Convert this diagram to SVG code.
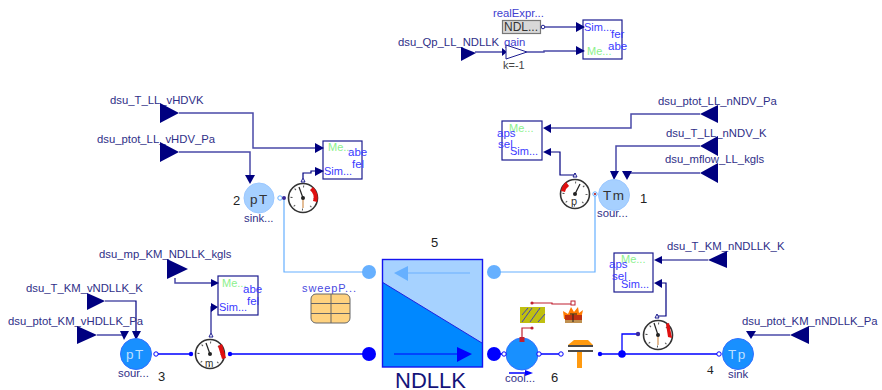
<svg xmlns="http://www.w3.org/2000/svg" width="882" height="390" viewBox="0 0 882 390">
<style>
text{font-family:"Liberation Sans",Arial,sans-serif}
.l{font-size:11.3px;fill:#2f2f88}
.n{font-size:13px;fill:#222}
.s{font-size:11.3px;fill:#4040d0}
.box{fill:#fff;stroke:#1c1c90;stroke-width:1.2}
.b{fill:none;stroke:#000080;stroke-width:1.200}
.b2{fill:none;stroke:#4a4aa8;stroke-width:1.500}
.lb{fill:none;stroke:#66b0ff;stroke-width:1.200}
.bl{fill:none;stroke:#0000ff;stroke-width:1.300}
.red{fill:none;stroke:#c02030;stroke-width:1.200}
.ah{fill:#000080}
.g{font-size:11px;fill:#8cf08c}
.i{font-size:11px;fill:#3a3aff}
.d{font-size:11.500px;fill:#3a3aff}
.gf{fill:#fff;stroke:#333;stroke-width:1.600}
.tk{fill:none;stroke:#555;stroke-width:2;stroke-dasharray:1 8}
.nd{stroke:#222;stroke-width:1.200}
.st{stroke:#d09050;stroke-width:1.200}
.o{fill:#fff;stroke:#0000ff;stroke-width:1}
.p{fill:#fff;stroke:#1c1c90;stroke-width:1}
.ic{font-size:13.500px;letter-spacing:1.500px}
</style>
<g id="connectors">
<path class="b2" d="M475 52H503"/>
<path class="b2" d="M527 52H544V51H578"/>
<path class="b2" d="M545 27H578"/>
<path class="b2" d="M179 113H253V148H317"/>
<path class="b2" d="M179 152H250V176"/>
<path class="b" d="M303 178V173H311V171H317"/>
<path class="b2" d="M700 114H631V128H549"/>
<path class="b2" d="M700 146H616V172"/>
<path class="b2" d="M700 173H630"/>
<path class="b" d="M575 173V175H560V152H549"/>
<path class="b2" d="M175 278V283H213"/>
<path class="b2" d="M97 335H124"/>
<path class="b" d="M105 301H136V332"/>
<path class="b2" d="M211 333V307H213"/>
<path class="b" d="M708 260H659"/>
<path class="b" d="M658 316H666V283H659"/>
<path class="b2" d="M790 335H751"/>
<path class="lb" d="M284 198V272H369"/>
<path class="lb" d="M494 272H595V194"/>
<path class="bl" d="M158 354H191M230 354H369"/>
<path class="bl" d="M488 354H504M541 354H559M600 354H717"/>
<path class="bl" d="M622 354V334H638"/>
<path class="red" d="M522 339V328H532"/>
<path class="red" d="M532 303H552V304H573"/>
</g>

<g id="top">
<text class="s" x="493" y="17">realExpr...</text>
<rect x="502.500" y="20.500" width="38" height="13" fill="#d8d8d8" stroke="#777" stroke-width="1.200"/>
<text x="504" y="31" font-size="12" fill="#333">NDL...</text>
<circle cx="543" cy="27" r="1.800" class="p"/>
<text class="l" x="398" y="46">dsu_Qp_LL_NDLLK</text>
<text class="s" x="504" y="46">gain</text>
<path class="ah" d="M461 47L476 53L461 61Z"/>
<path class="ah" d="M502 48L507 52L502 56Z"/>
<path fill="#fff" stroke="#1c1c90" stroke-width="1" d="M506 45L527 52L506 59Z"/>
<text x="503" y="69" font-size="11" fill="#444">k=-1</text>
<rect class="box" x="583" y="20" width="39" height="39"/>
<path class="ah" d="M576 22L585 27L576 32ZM576 46L585 51L576 55Z"/>
<text class="i" x="584" y="31">Sim...</text>
<text class="g" x="587" y="55">Me...</text>
<text class="d" x="611" y="38">fer</text>
<text class="d" x="608" y="50">abe</text>
</g>

<g id="sinkLL">
<text class="l" x="110" y="104">dsu_T_LL_vHDVK</text>
<text class="l" x="97" y="143">dsu_ptot_LL_vHDV_Pa</text>
<path class="ah" d="M160 103L179 113L160 123ZM160 142L179 152L160 162Z"/>
<path class="ah" d="M245 175H255L250 184Z"/>
<rect class="box" x="323" y="141" width="39" height="38"/>
<path class="ah" d="M315 143L324 148L315 153ZM315 167L324 171L315 176Z"/>
<text class="g" x="328" y="151">Me...</text>
<text class="i" x="324" y="175">Sim...</text>
<text class="d" x="348" y="156">abe</text>
<text class="d" x="352" y="168">fel</text>
<circle cx="259" cy="198" r="15" fill="#a6d0ff" stroke="#9cc8ff"/>
<text class="ic" x="250" y="204" fill="#333">pT</text>
<text class="n" x="233" y="205">2</text>
<text class="l" x="244" y="222">sink...</text>
<circle cx="280" cy="198" r="2.200" fill="#fff" stroke="#66b0ff"/>
<circle cx="284" cy="198" r="2" fill="#3a2a9a"/>
<circle cx="303" cy="198" r="14.500" class="gf"/>
<circle cx="303" cy="198" r="11.500" class="tk"/>
<path d="M313 187A15 15 0 0 1 317 202L313 201A10 10 0 0 0 310 190Z" fill="#e01010"/>
<path class="st" d="M303 198V208"/>
<path class="nd" d="M303 198L299 187"/>
<circle cx="303" cy="198" r="2" fill="#222"/>
<path d="M301 182H305L303 178Z" class="p"/>
</g>

<g id="sourceLL">
<text class="l" x="658" y="105">dsu_ptot_LL_nNDV_Pa</text>
<text class="l" x="666" y="137">dsu_T_LL_nNDV_K</text>
<text class="l" x="665" y="163">dsu_mflow_LL_kgls</text>
<path class="ah" d="M718 105L700 114L718 123ZM718 136L700 146L718 156ZM718 163L700 173L718 183Z"/>
<path class="ah" d="M610 171H619L614 180ZM622 171H632L627 180Z"/>
<rect class="box" x="502" y="121" width="40" height="39"/>
<path class="ah" d="M551 124L543 128L551 133ZM551 148L543 152L551 156Z"/>
<text class="g" x="509" y="132">Me...</text>
<text class="i" x="510" y="155">Sim...</text>
<text class="d" x="497" y="137">aps</text>
<text class="d" x="498" y="148">sel</text>
<circle cx="575" cy="194" r="14.500" class="gf"/>
<circle cx="575" cy="194" r="11.500" class="tk"/>
<path d="M566 182A15 15 0 0 0 561 191L565 192A10 10 0 0 1 569 186Z" fill="#e01010"/>
<path class="nd" d="M575 194L580 184"/>
<circle cx="575" cy="194" r="2" fill="#222"/>
<text x="571" y="205" font-size="11" fill="#333">p</text>
<path d="M573 177H577L575 173Z" class="p"/>
<circle cx="614" cy="195" r="15.500" fill="#a6d0ff" stroke="#9cc8ff"/>
<text class="ic" x="603" y="200" fill="#333">Tm</text>
<text class="n" x="640" y="203">1</text>
<text class="l" x="597" y="217">sour...</text>
<circle cx="595" cy="194" r="2.200" fill="#fff" stroke="#66b0ff"/>
<circle cx="595" cy="194" r="1" fill="#a00"/>
</g>

<g id="sourceKM">
<text class="l" x="99" y="258">dsu_mp_KM_NDLLK_kgls</text>
<text class="l" x="26" y="292">dsu_T_KM_vNDLLK_K</text>
<text class="l" x="8" y="325">dsu_ptot_KM_vHDLLK_Pa</text>
<path class="ah" d="M167 259L188 269L167 279ZM87 293L105 301L87 310ZM77 326L97 335L77 344Z"/>
<path class="ah" d="M120 331H129L124 340ZM132 331H141L136 340Z"/>
<rect class="box" x="218" y="276" width="40" height="39"/>
<path class="ah" d="M211 279L219 283L211 287ZM211 303L218 307L211 312Z"/>
<text class="g" x="222" y="287">Me...</text>
<text class="i" x="219" y="311">Sim...</text>
<text class="d" x="243" y="293">abe</text>
<text class="d" x="247" y="305">fel</text>
<circle cx="136" cy="354" r="15.500" fill="#1890ff" stroke="#3070ff"/>
<text class="ic" x="126" y="359" fill="#bfe0ff">pT</text>
<text class="l" x="118" y="377">sour...</text>
<text class="n" x="158" y="381">3</text>
<circle cx="156" cy="354" r="2.200" class="o"/>
<circle cx="191" cy="354" r="2.200" fill="#0000ff"/>
<circle cx="210" cy="354" r="14.500" class="gf"/>
<circle cx="210" cy="354" r="11.500" class="tk"/>
<path d="M218 346L222 344L226 358L222 359Z" fill="#e01010"/>
<path class="nd" d="M210 354L206 343"/>
<circle cx="210" cy="354" r="2" fill="#222"/>
<text x="205" y="367" font-size="10" fill="#333">m</text>
<path d="M209 337H213L211 333Z" class="p"/>
<circle cx="230" cy="354" r="2.200" fill="#0000ff"/>
</g>

<g id="sweep">
<text x="302" y="292" font-size="11" letter-spacing=".9" fill="#4a4ae0">sweepP...</text>
<rect x="311" y="294" width="39" height="29" rx="5" fill="#ffd27f" stroke="#666" stroke-width="1"/>
<path d="M331 294V323M311 303.500H350M311 313.500H350" stroke="#666" stroke-width="1"/>
</g>

<g id="hx">
<text class="n" x="431" y="247">5</text>
<rect x="382" y="259" width="100" height="108" fill="#a6d2ff"/>
<path d="M382 282L482 343V367H382Z" fill="#0088ff"/>
<path d="M382 282L482 343" stroke="#2020e0" stroke-width="1"/>
<rect x="382.500" y="259.500" width="100" height="107.500" fill="none" stroke="#1414f0" stroke-width="1.400"/>
<path d="M470 273H402" stroke="#6ab0ff" stroke-width="1.200"/>
<path d="M394 273L408 266V281Z" fill="#66b0ff"/>
<path d="M394 354H465" stroke="#0000ff" stroke-width="1.200"/>
<path d="M457 347L472 354L457 362Z" fill="#0000ff"/>
<circle cx="369" cy="272" r="7" fill="#66b0ff"/>
<circle cx="494" cy="272" r="7" fill="#66b0ff"/>
<circle cx="369" cy="354" r="7" fill="#0000ff"/>
<circle cx="494" cy="354" r="7" fill="#0000ff"/>
<text x="395" y="388" font-size="22" fill="#14147a">NDLLK</text>
</g>

<g id="cooler">
<rect x="520" y="307" width="25" height="16" fill="#bfbf10"/>
<path d="M522 322L532 308M530 322L540 308M522 315L528 308M538 322L545 314" stroke="#4040c0" stroke-width="1"/>
<path d="M564 319L563 311L568 314L571 307L574 312L578 307L579 313L583 310L581 319Z" fill="#ff7a00"/>
<rect x="565" y="315" width="17" height="8" fill="#c03010"/>
<rect x="565" y="320" width="17" height="3" fill="#c09050"/>
<path d="M573 314V322M570 314H577" stroke="#222" stroke-width="1"/>
<circle cx="532" cy="303" r="1.600" fill="#c02030"/>
<rect x="571" y="301" width="4" height="4" fill="#fff" stroke="#c02030"/>
<circle cx="532" cy="328" r="1.600" fill="#c02030"/>
<circle cx="522" cy="354" r="16" fill="#1890ff" stroke="#3070ff" stroke-width="1"/>
<rect x="519.500" y="337" width="5" height="5" fill="#c02030"/>
<circle cx="504" cy="354" r="2.200" class="o"/>
<circle cx="539" cy="354" r="2.200" class="o"/>
<path d="M509 373H528" stroke="#0000ff" stroke-width="1.500"/>
<path d="M525 370L533 373L525 376Z" fill="#0000ff"/>
<text class="l" x="505" y="382">cool...</text>
<text class="n" x="551" y="382">6</text>
<circle cx="561" cy="354" r="2.200" class="o"/>
</g>

<g id="tee">
<path d="M568 345L574 340H588L593 345Z" fill="#ff9a10"/>
<path d="M568 346H593M568 351H593" stroke="#111" stroke-width="1.500"/>
<rect x="577" y="352" width="5" height="16" fill="#ff9a10"/>
<circle cx="600" cy="354" r="2.200" fill="#0000ff"/>
<circle cx="622" cy="354" r="3.800" fill="#0000ff"/>
</g>

<g id="sinkKM">
<text class="l" x="667" y="250">dsu_T_KM_nNDLLK_K</text>
<text class="l" x="742" y="325">dsu_ptot_KM_nNDLLK_Pa</text>
<path class="ah" d="M727 251L708 260L727 268ZM809 326L790 335L809 344Z"/>
<path class="ah" d="M746 331H756L751 339Z"/>
<rect class="box" x="614" y="253" width="39" height="39"/>
<path class="ah" d="M662 256L654 260L662 264ZM662 279L654 283L662 288Z"/>
<text class="g" x="621" y="263">Me...</text>
<text class="i" x="621" y="288">Sim...</text>
<text class="d" x="609" y="268">aps</text>
<text class="d" x="612" y="280">sel</text>
<circle cx="658" cy="335" r="14.500" class="gf"/>
<circle cx="658" cy="335" r="11.500" class="tk"/>
<path d="M666 324L669 323L672 338L668 337Z" fill="#e01010"/>
<path class="st" d="M658 335V345"/>
<path class="nd" d="M658 335L654 323"/>
<circle cx="658" cy="335" r="2" fill="#222"/>
<path d="M655 318H659L657 314Z" class="p"/>
<circle cx="638" cy="334" r="2.200" fill="#3a2a9a"/>
<circle cx="719" cy="354" r="2.200" class="o"/>
<circle cx="738" cy="354" r="15.500" fill="#1890ff" stroke="#3070ff"/>
<text class="ic" x="728" y="359" fill="#bfe0ff">Tp</text>
<text x="707" y="374" font-size="13" fill="#222" style="font-family:'Liberation Serif',serif">4</text>
<text class="l" x="728" y="378">sink</text>
</g>
</svg>
